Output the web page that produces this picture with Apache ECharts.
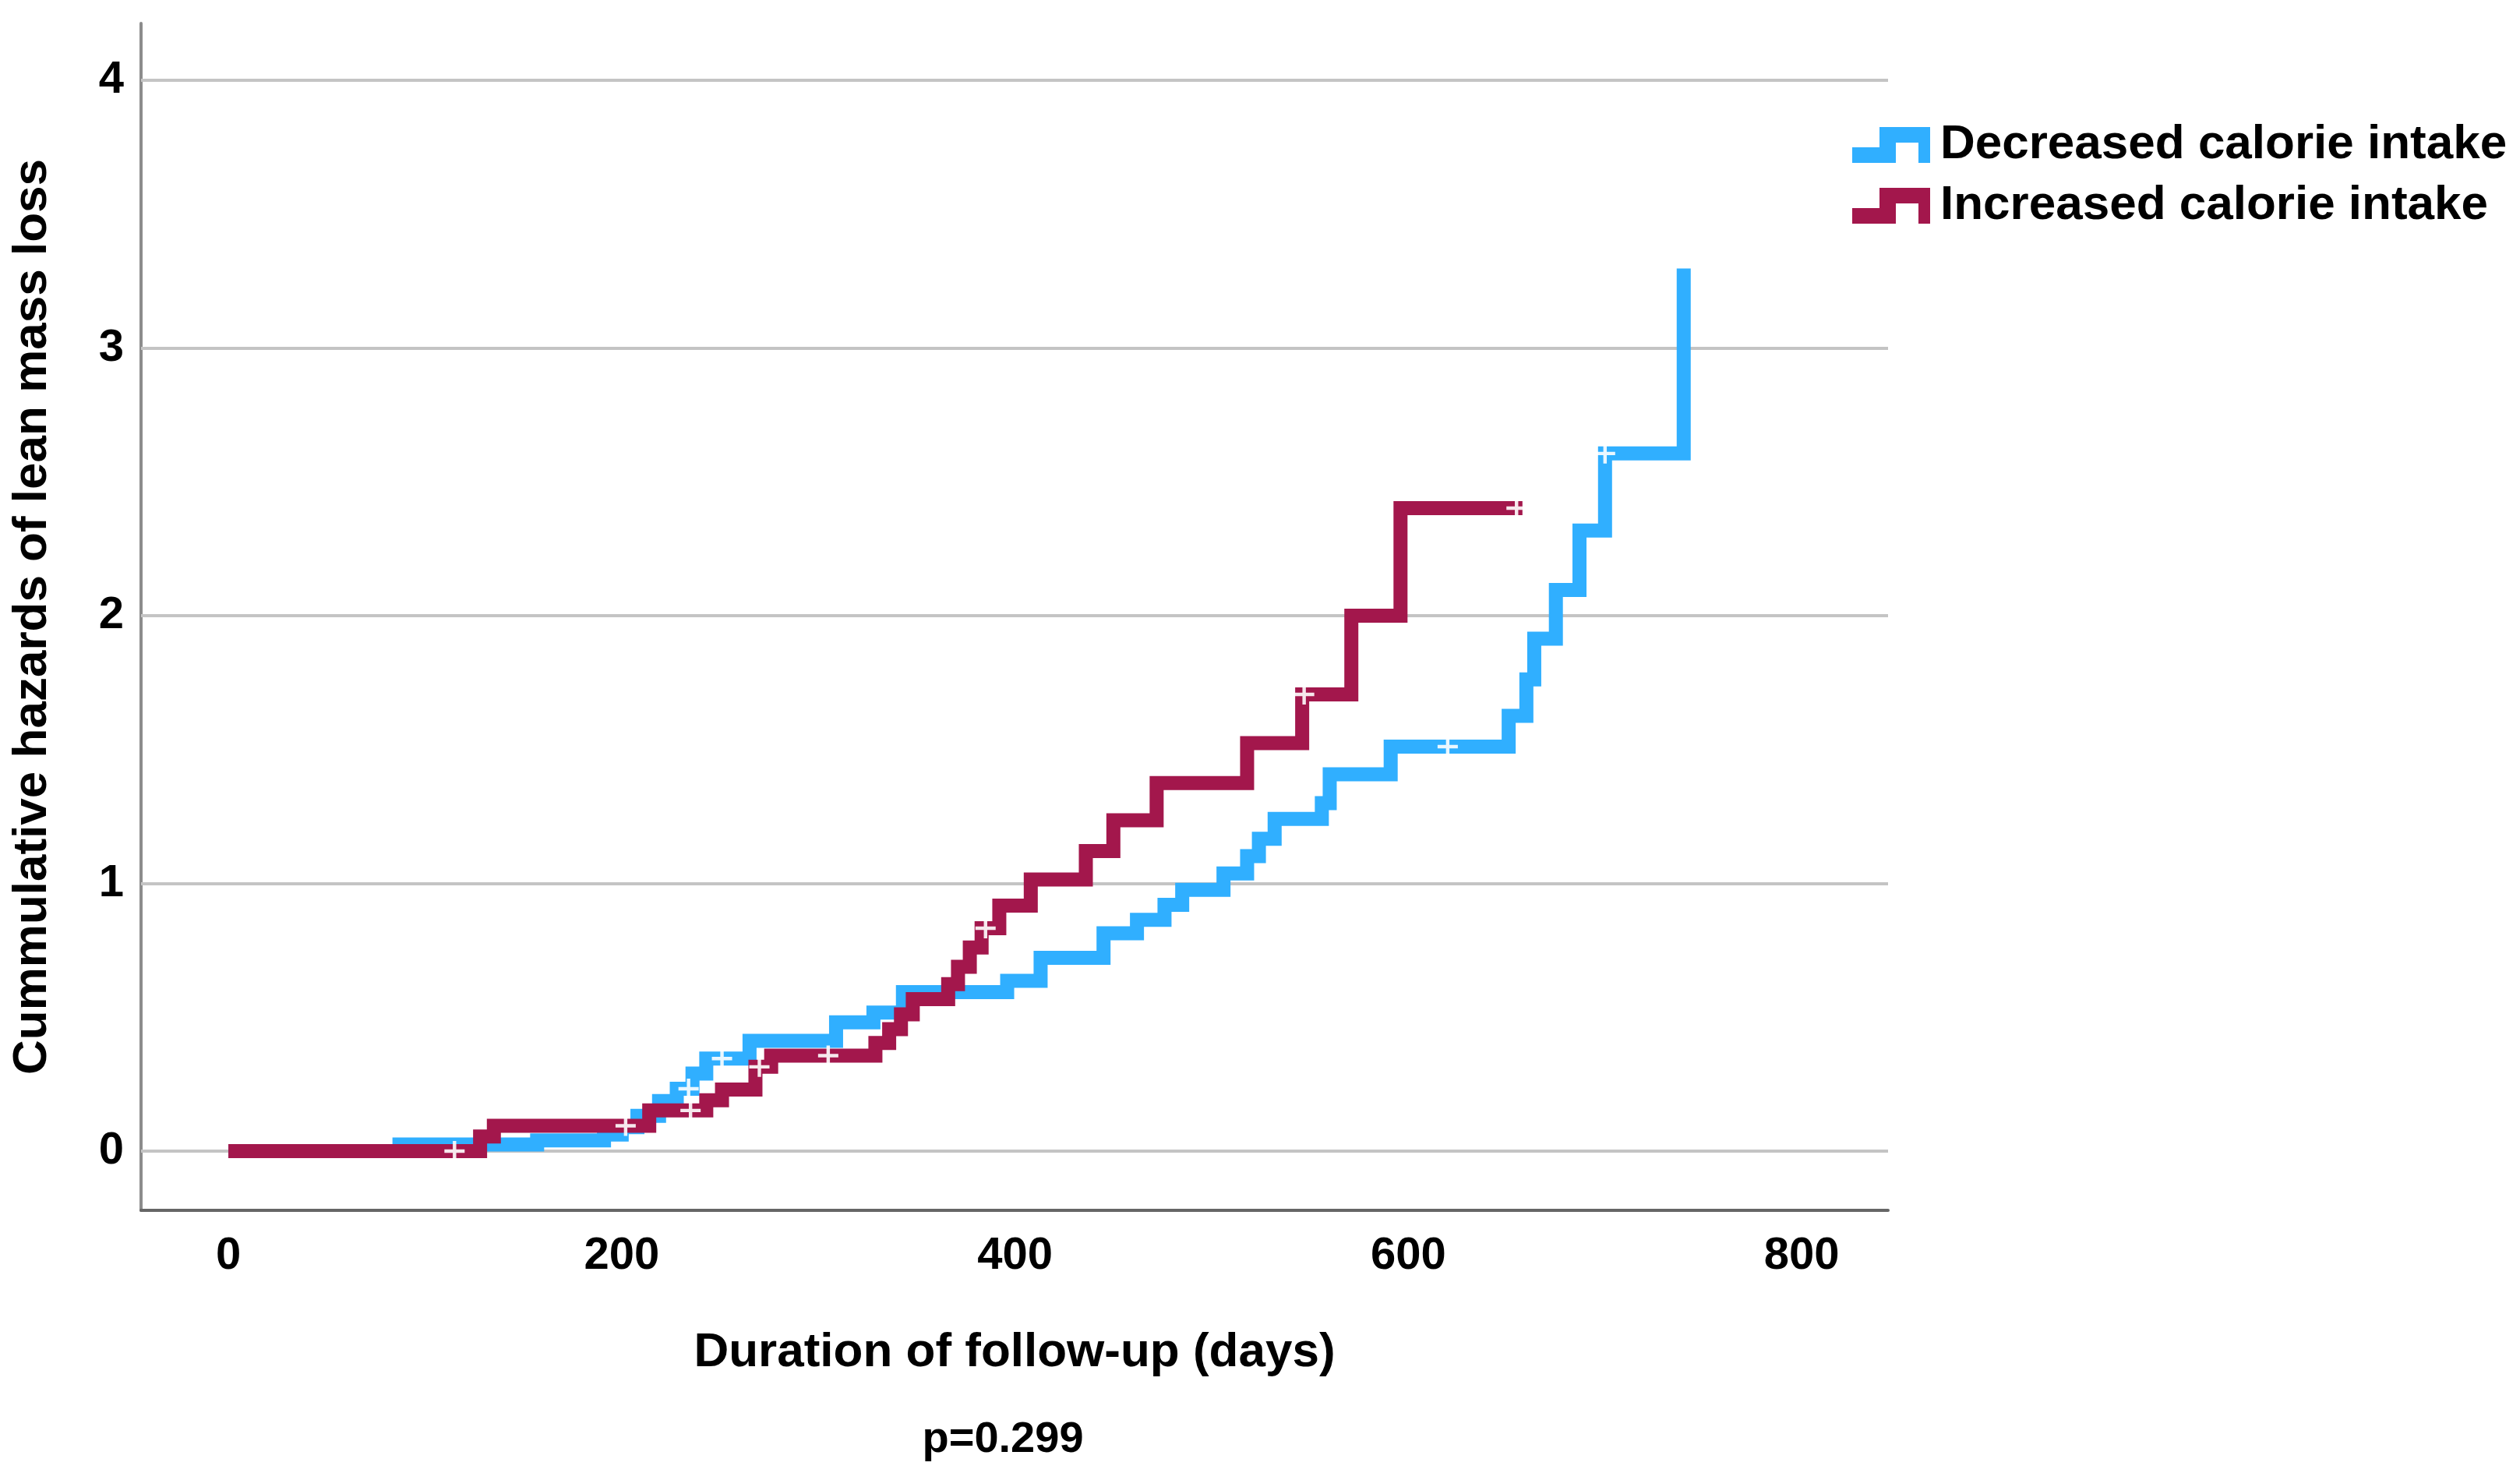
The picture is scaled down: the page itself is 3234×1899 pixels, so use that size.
<!DOCTYPE html>
<html>
<head>
<meta charset="utf-8">
<script src="https://cdn.jsdelivr.net/npm/echarts@6/dist/echarts.min.js"></script>
<style>
html,body{margin:0;padding:0;background:#fff;}
#chart{width:3234px;height:1899px;}
</style>
</head>
<body>
<div id="chart"></div>
<script>
// ---- data ----
const seriesNames = ['Decreased calorie intake', 'Increased calorie intake'];
const xTicks = [0, 200, 400, 600, 800];
const yTicks = [0, 1, 2, 3, 4];

const decDays = [0, 87, 157, 191, 200, 208, 219, 228, 236, 243, 265, 309, 328, 343, 396, 413, 445, 462, 476, 485, 506, 518, 524, 532, 556, 560, 591, 651, 660, 664, 675, 687, 700, 740];
const decHaz  = [0, 0.025, 0.04, 0.062, 0.09, 0.132, 0.187, 0.233, 0.29, 0.346, 0.412, 0.481, 0.518, 0.594, 0.636, 0.722, 0.814, 0.864, 0.92, 0.976, 1.037, 1.102, 1.167, 1.241, 1.30, 1.408, 1.511, 1.626, 1.762, 1.914, 2.096, 2.318, 2.606, 3.297];

const incDays = [0, 128, 135, 214, 243, 251, 268, 276, 329, 336, 342, 348, 366, 371, 377, 383, 392, 408, 436, 450, 472, 518, 546, 571, 596, 658];
const incHaz  = [0, 0.055, 0.095, 0.152, 0.19, 0.23, 0.315, 0.357, 0.404, 0.456, 0.511, 0.568, 0.624, 0.689, 0.761, 0.833, 0.917, 1.015, 1.121, 1.236, 1.375, 1.524, 1.706, 2.0, 2.402, 2.402];

const decCensorDays = [234, 251, 620, 700];
const decCensorHaz  = [0.233, 0.346, 1.511, 2.606];
const incCensorDays = [115, 202, 235, 270, 305, 385, 547, 655];
const incCensorHaz  = [0, 0.095, 0.152, 0.315, 0.357, 0.833, 1.706, 2.402];

const pText = 'p=0.299';

// ---- chart ----
const FONT = 'Liberation Sans, Arial, sans-serif';
const BLUE = '#30AFFF';
const RED = '#A3174C';
const zip = (a, b) => a.map((v, i) => [v, b[i]]);
const plusPath = 'path://M8.3,0H11.7V8.3H20V11.7H11.7V20H8.3V11.7H0V8.3H8.3Z';
const legendIcon = 'path://M0,26H35V0H100V46H85V20H56V46H0Z';

const chart = echarts.init(document.getElementById('chart'), null, {renderer: 'canvas'});
chart.setOption({
  animation: false,
  backgroundColor: '#fff',
  grid: {left: 181, right: 811, top: 30, bottom: 346, containLabel: false},
  legend: {
    data: seriesNames.map((n, i) => ({name: n, icon: legendIcon, itemStyle: {color: i === 0 ? BLUE : RED}})),
    orient: 'vertical',
    left: 2372, top: 146,
    itemWidth: 100, itemHeight: 46, itemGap: 8,
    textStyle: {fontFamily: FONT, fontSize: 62, fontWeight: 'bold', color: '#000', padding: [0, 0, 0, 8], lineHeight: 70},
    selectedMode: false
  },
  xAxis: {
    type: 'value', min: -44.4, max: 843.9,
    name: 'Duration of follow-up (days)', nameLocation: 'middle', nameGap: 152,
    nameTextStyle: {fontFamily: FONT, fontSize: 62, fontWeight: 'bold', color: '#000'},
    axisLine: {show: true, onZero: false, lineStyle: {color: '#666', width: 4}},
    axisTick: {show: false},
    splitLine: {show: false},
    axisLabel: {
      fontFamily: FONT, fontSize: 58, fontWeight: 'bold', color: '#000', margin: 30,
      formatter: v => xTicks.some(t => Math.abs(t - v) < 1e-6) ? String(Math.round(v)) : ''
    }
  },
  yAxis: {
    type: 'value', min: -0.221, max: 4.2125,
    name: 'Cummulative hazards of lean mass loss', nameLocation: 'middle', nameGap: 108, nameRotate: 90,
    nameTextStyle: {fontFamily: FONT, fontSize: 62, fontWeight: 'bold', color: '#000'},
    axisLine: {show: true, onZero: false, lineStyle: {color: '#8c8c8c', width: 4}},
    axisTick: {show: false},
    splitLine: {show: false},
    axisLabel: {
      fontFamily: FONT, fontSize: 58, fontWeight: 'bold', color: '#000', margin: 22,
      formatter: v => yTicks.some(t => Math.abs(t - v) < 1e-6) ? String(Math.round(v)) : ''
    }
  },
  graphic: [{
    type: 'text', x: 1287, y: 1848,
    style: {text: pText, fontFamily: FONT, fontSize: 56, fontWeight: 'bold', fill: '#000', align: 'center', verticalAlign: 'middle'}
  }],
  series: [
    {
      name: '__grid', type: 'line', data: [], z: 1, silent: true,
      markLine: {
        silent: true, symbol: 'none', z: 1,
        label: {show: false},
        lineStyle: {color: '#c4c4c4', width: 4, type: 'solid'},
        data: yTicks.map(t => ({yAxis: t}))
      }
    },
    {
      name: seriesNames[0], type: 'line', step: 'end', data: zip(decDays, decHaz),
      showSymbol: false, symbol: 'none', z: 3, color: BLUE,
      lineStyle: {color: BLUE, width: 18, join: 'miter', cap: 'butt'}
    },
    {
      name: seriesNames[1], type: 'line', step: 'end', data: zip(incDays, incHaz),
      showSymbol: false, symbol: 'none', z: 4, color: RED,
      lineStyle: {color: RED, width: 18, join: 'miter', cap: 'butt'}
    },
    {
      name: 'decCensor', type: 'scatter', data: zip(decCensorDays, decCensorHaz),
      symbol: plusPath, symbolSize: 26, z: 6, silent: true,
      itemStyle: {color: '#ffffff', opacity: 0.9}
    },
    {
      name: 'incCensor', type: 'scatter', data: zip(incCensorDays, incCensorHaz),
      symbol: plusPath, symbolSize: 26, z: 6, silent: true,
      itemStyle: {color: '#ffffff', opacity: 0.9}
    }
  ]
});
</script>
</body>
</html>
